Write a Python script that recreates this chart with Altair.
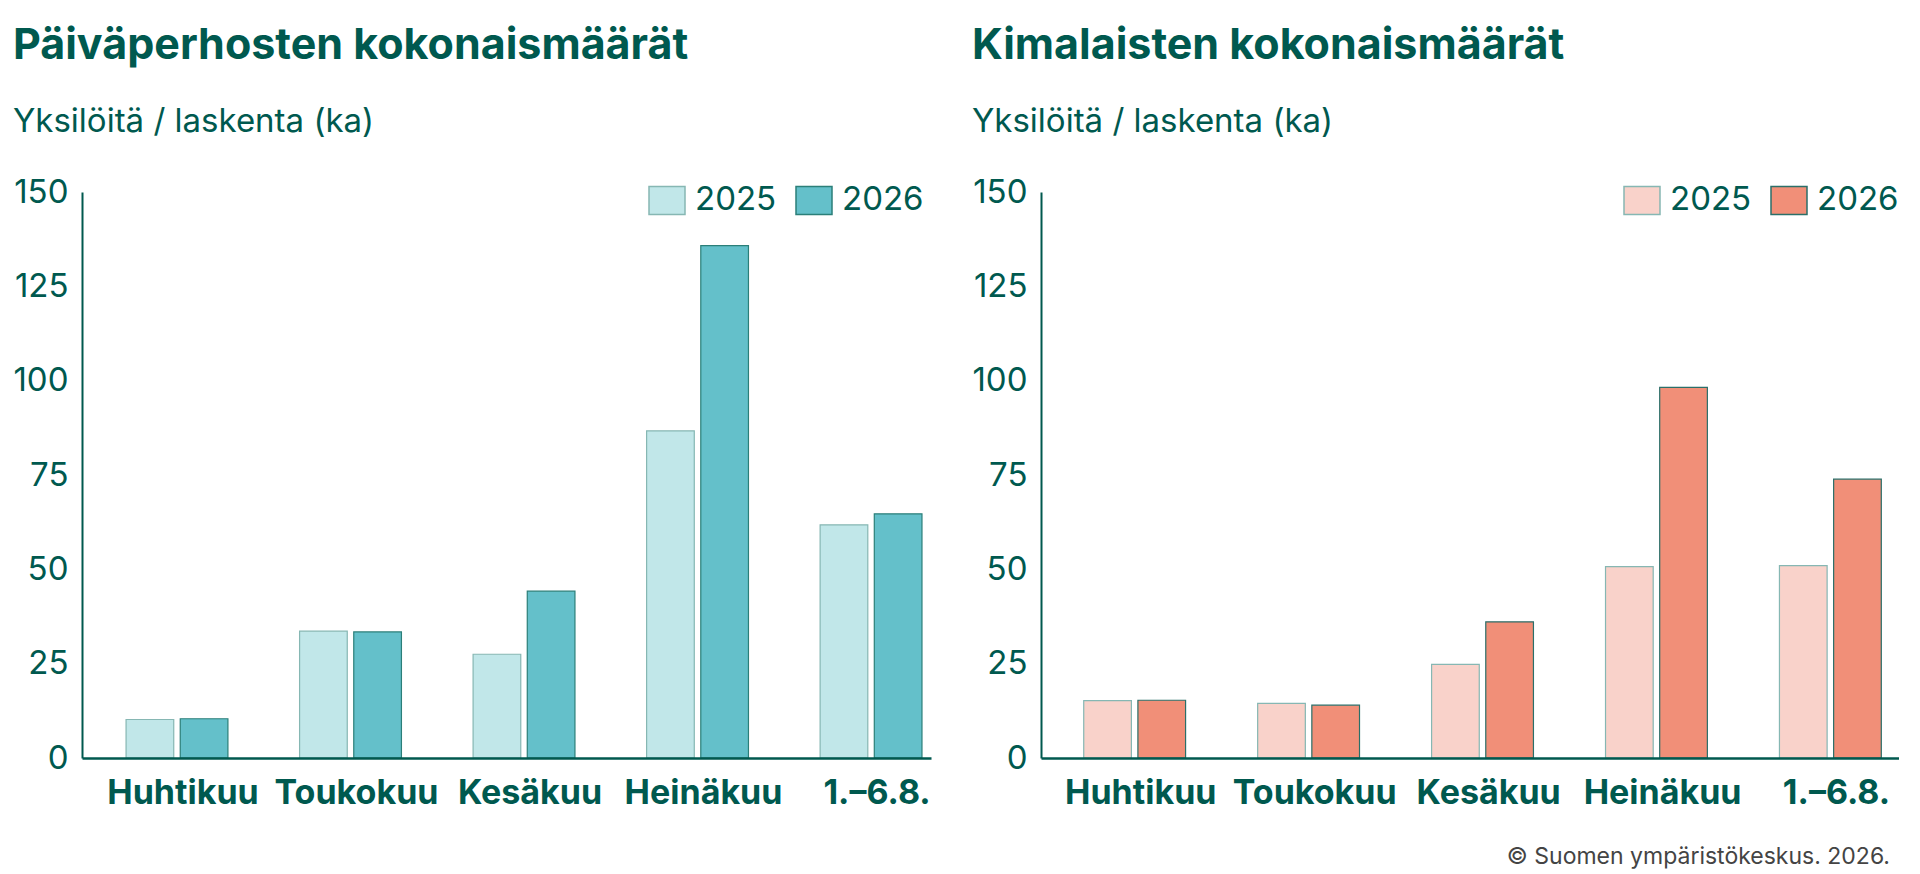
import altair as alt
import pandas as pd

categories = ["Huhtikuu", "Toukokuu", "Kesäkuu", "Heinäkuu", "1.–6.8."]
years = ["2025", "2026"]
butterflies_2025 = [10.2, 33.6, 27.5, 86.7, 61.8]
butterflies_2026 = [10.4, 33.4, 44.2, 135.8, 64.7]
bumblebees_2025 = [15.2, 14.5, 24.8, 50.7, 51.0]
bumblebees_2026 = [15.3, 14.0, 36.1, 98.2, 73.9]
y_ticks = [0, 25, 50, 75, 100, 125, 150]

title_left = "Päiväperhosten kokonaismäärät"
title_right = "Kimalaisten kokonaismäärät"
subtitle = "Yksilöitä / laskenta (ka)"
credit = "© Suomen ympäristökeskus. 2026."

DARK = "#00594f"
FONT = "Inter"


def long_df(v2025, v2026):
    rows = []
    for c, a, b in zip(categories, v2025, v2026):
        rows.append({"Kuukausi": c, "Vuosi": "2025", "Arvo": a})
        rows.append({"Kuukausi": c, "Vuosi": "2026", "Arvo": b})
    return pd.DataFrame(rows)


def panel(df, title, fills, strokes, legend_x, align, pad_outer, width):
    return (
        alt.Chart(df)
        .mark_bar(strokeWidth=1.2)
        .encode(
            x=alt.X(
                "Kuukausi:N",
                sort=categories,
                scale=alt.Scale(paddingInner=0.413, paddingOuter=pad_outer, align=align),
                axis=alt.Axis(
                    title=None, labelAngle=0, labelFont=FONT, labelFontSize=34,
                    labelFontWeight="bold", labelColor=DARK, labelPadding=18,
                    labelOffset=6, ticks=False, domainColor=DARK, domainWidth=2.5,
                    zindex=1, grid=False,
                ),
            ),
            xOffset=alt.XOffset(
                "Vuosi:N", sort=years, scale=alt.Scale(paddingInner=0.12, paddingOuter=0)
            ),
            y=alt.Y(
                "Arvo:Q",
                scale=alt.Scale(domain=[0, 150], nice=False),
                axis=alt.Axis(
                    title=None, values=y_ticks, labelFont=FONT, labelFontSize=33,
                    labelColor=DARK, labelPadding=14, ticks=False, domainColor=DARK,
                    domainWidth=2, grid=False,
                ),
            ),
            color=alt.Color(
                "Vuosi:N",
                sort=years,
                scale=alt.Scale(domain=years, range=fills),
                legend=alt.Legend(
                    title=None, orient="none", direction="horizontal",
                    legendX=legend_x, legendY=-11, labelFont=FONT, labelFontSize=33,
                    labelColor=DARK, labelOffset=9, columnPadding=16,
                    symbolType="M-1,-0.778H1V0.778H-1Z", symbolSize=1296,
                    symbolStrokeColor="#2b7f79", symbolStrokeWidth=1.5, padding=0,
                ),
            ),
            stroke=alt.Stroke(
                "Vuosi:N", sort=years, scale=alt.Scale(domain=years, range=strokes), legend=None
            ),
        )
        .properties(
            width=width,
            height=566,
            title=alt.TitleParams(
                text=title, subtitle=subtitle, anchor="start", font=FONT, fontSize=43,
                fontWeight="bold", color=DARK, subtitleFont=FONT, subtitleFontSize=33,
                subtitleColor=DARK, subtitlePadding=38, offset=37,
            ),
        )
    )


left = panel(
    long_df(butterflies_2025, butterflies_2026), title_left,
    ["#c1e7e9", "#64c0ca"], ["#86b7b3", "#2b7f79"], 566, 0.83, 0.153, 849,
)
right = panel(
    long_df(bumblebees_2025, bumblebees_2026), title_right,
    ["#f9d2ca", "#f18f78"], ["#86b7b3", "#2b6f69"], 582, 0.71, 0.173, 858,
)

chart = (
    alt.hconcat(left, right, spacing=40)
    .resolve_scale(color="independent", stroke="independent", x="independent", y="independent")
    .properties(
        title=alt.TitleParams(
            text=credit, orient="bottom", anchor="end", font=FONT, fontSize=23,
            fontWeight="normal", color="#444444", dx=-9, offset=36,
        )
    )
    .configure(padding={"left": 4, "top": 17, "right": 0, "bottom": 0}, font=FONT)
    .configure_view(stroke=None)
)

chart.save("out.html", embed_options={"renderer": "svg", "actions": False})
